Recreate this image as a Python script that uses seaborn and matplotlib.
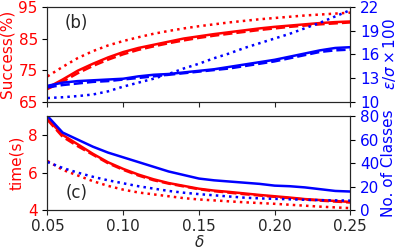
import numpy as np
import matplotlib
matplotlib.use('Agg')
import matplotlib.pyplot as plt
import seaborn as sns

# delta grid
delta = [0.05, 0.06, 0.07, 0.08, 0.09, 0.10, 0.11, 0.12, 0.13, 0.14, 0.15,
         0.16, 0.17, 0.18, 0.19, 0.20, 0.21, 0.22, 0.23, 0.24, 0.25]

# (b) success (%) - left axis
succ_solid = [69.4, 72.0, 74.8, 77.0, 79.0, 80.7, 82.0, 83.0, 84.0, 85.0, 85.7,
              86.4, 87.0, 87.6, 88.2, 88.7, 89.1, 89.5, 89.9, 90.2, 90.4]
succ_dash = [69.0, 71.3, 74.0, 76.3, 78.3, 80.0, 81.4, 82.5, 83.5, 84.4, 85.2,
             85.9, 86.5, 87.1, 87.7, 88.2, 88.7, 89.1, 89.5, 89.8, 90.1]
succ_dot = [73.0, 76.0, 78.8, 81.0, 82.8, 84.2, 85.4, 86.5, 87.4, 88.2, 88.9,
            89.5, 90.1, 90.6, 91.1, 91.5, 91.9, 92.3, 92.6, 92.9, 93.2]

# (b) eps/sigma x 100 - right axis
eps_solid = [12.0, 12.4, 12.6, 12.7, 12.8, 12.9, 13.2, 13.4, 13.5, 13.7, 13.9,
             14.1, 14.4, 14.7, 15.0, 15.3, 15.7, 16.1, 16.5, 16.8, 16.9]
eps_dash = [11.8, 12.1, 12.3, 12.5, 12.6, 12.8, 13.0, 13.2, 13.4, 13.6, 13.8,
            14.0, 14.2, 14.5, 14.8, 15.1, 15.5, 15.9, 16.3, 16.5, 16.6]
eps_dot = [10.45, 10.55, 10.7, 10.9, 11.3, 11.9, 12.4, 12.9, 13.5, 14.2, 14.8,
           15.5, 16.1, 16.8, 17.4, 18.0, 18.6, 19.3, 20.0, 20.8, 21.6]

# (c) time (s) - left axis
time_solid = [8.85, 8.0, 7.5, 7.0, 6.55, 6.2, 5.9, 5.65, 5.45, 5.3, 5.15,
              5.05, 4.98, 4.9, 4.82, 4.75, 4.68, 4.6, 4.55, 4.5, 4.45]
time_dash = [8.8, 7.9, 7.4, 6.95, 6.5, 6.15, 5.85, 5.6, 5.42, 5.27, 5.12,
             5.02, 4.94, 4.86, 4.79, 4.72, 4.65, 4.58, 4.52, 4.47, 4.42]
time_dot = [6.62, 6.15, 5.85, 5.55, 5.3, 5.1, 4.95, 4.85, 4.75, 4.65, 4.58,
            4.53, 4.48, 4.43, 4.39, 4.35, 4.3, 4.25, 4.2, 4.16, 4.12]

# (c) number of classes - right axis
cls_solid = [80, 66, 60, 54, 49, 45, 41, 37, 33, 30, 27,
             25.5, 24.5, 23.5, 22.5, 21, 20.5, 19.5, 18, 16.5, 16]
cls_dot = [41, 36, 32, 28.5, 25.5, 23, 20.5, 18.5, 16.5, 15, 13.8,
           12.8, 11.8, 10.8, 10.2, 9.8, 9.4, 9.0, 8.7, 8.5, 8.3]

sns.set_style('ticks')
plt.rcParams['font.family'] = ['DejaVu Sans']
plt.rcParams['font.size'] = 11

fig = plt.figure(figsize=(3.99, 2.49), dpi=100)
ax_b = fig.add_axes([0.119, 0.592, 0.759, 0.380])
ax_c = fig.add_axes([0.119, 0.155, 0.759, 0.379], sharex=ax_b)
ax_b2 = ax_b.twinx()
ax_c2 = ax_c.twinx()

lw = 1.8
# panel (b)
sns.lineplot(x=delta, y=succ_solid, ax=ax_b, color='red', lw=lw)
sns.lineplot(x=delta, y=succ_dash, ax=ax_b, color='red', lw=lw, linestyle='--')
sns.lineplot(x=delta, y=succ_dot, ax=ax_b, color='red', lw=lw, linestyle=':')
sns.lineplot(x=delta, y=eps_solid, ax=ax_b2, color='blue', lw=lw)
sns.lineplot(x=delta, y=eps_dash, ax=ax_b2, color='blue', lw=lw, linestyle='--')
sns.lineplot(x=delta, y=eps_dot, ax=ax_b2, color='blue', lw=lw, linestyle=':')

# panel (c)
sns.lineplot(x=delta, y=time_solid, ax=ax_c, color='red', lw=lw)
sns.lineplot(x=delta, y=time_dash, ax=ax_c, color='red', lw=lw, linestyle='--')
sns.lineplot(x=delta, y=time_dot, ax=ax_c, color='red', lw=lw, linestyle=':')
sns.lineplot(x=delta, y=cls_solid, ax=ax_c2, color='blue', lw=lw)
sns.lineplot(x=delta, y=cls_dot, ax=ax_c2, color='blue', lw=lw, linestyle=':')

ax_b.set_xlim(0.05, 0.25)
ax_b.set_ylim(65, 95)
ax_b.set_yticks([65, 75, 85, 95])
ax_b2.set_ylim(10, 22)
ax_b2.set_yticks([10, 13, 16, 19, 22])
ax_c.set_ylim(4, 9)
ax_c.set_yticks([4, 6, 8])
ax_c2.set_ylim(0, 80)
ax_c2.set_yticks([0, 20, 40, 60, 80])
ax_c.set_xticks([0.05, 0.10, 0.15, 0.20, 0.25])
ax_c.set_xticklabels(['0.05', '0.10', '0.15', '0.20', '0.25'])
ax_b.tick_params(axis='x', labelbottom=False)

for a in (ax_b, ax_c):
    a.tick_params(axis='y', colors='red', labelsize=11)
    a.tick_params(axis='y', color='black')
    a.tick_params(axis='x', labelsize=11, pad=2.5)
for a in (ax_b2, ax_c2):
    a.tick_params(axis='y', colors='blue', labelsize=11)
    a.tick_params(axis='y', color='black')

ax_b.set_ylabel('Success(%)', color='red', fontsize=11, labelpad=3)
ax_b2.set_ylabel(r'$\varepsilon/\sigma\times100$', color='blue', fontsize=11, labelpad=1)
ax_c.set_ylabel('time(s)', color='red', fontsize=11, labelpad=3)
ax_c2.set_ylabel('No. of Classes', color='blue', fontsize=11, labelpad=1)
ax_c.set_xlabel(r'$\delta$', fontsize=11, labelpad=0)

ax_b.text(0.095, 0.93, '(b)', transform=ax_b.transAxes, fontsize=12, va='top', ha='center')
ax_c.text(0.095, 0.28, '(c)', transform=ax_c.transAxes, fontsize=12, va='top', ha='center')

fig.savefig('out.png', dpi=100)
